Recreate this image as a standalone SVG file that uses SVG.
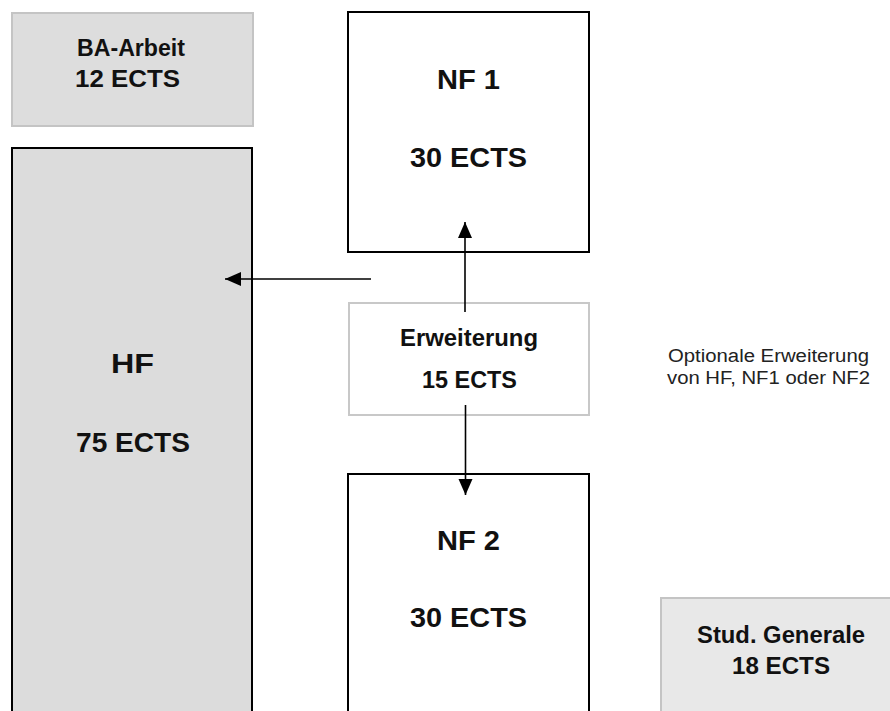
<svg xmlns="http://www.w3.org/2000/svg" width="890" height="711" viewBox="0 0 890 711">
<defs>
<marker id="ah" markerUnits="userSpaceOnUse" markerWidth="18" markerHeight="16" refX="16" refY="7" orient="auto">
<path d="M0,0 L16,7 L0,14 Z" fill="#000"/>
</marker>
<style>
.big{font-family:"Liberation Sans",Arial,sans-serif;font-weight:bold;font-size:28px;fill:#111}
.mid{font-family:"Liberation Sans",Arial,sans-serif;font-weight:bold;font-size:23px;fill:#111}
.small{font-family:"Liberation Sans",Arial,sans-serif;font-size:18px;fill:#222}
.gray{fill:#dddddd;stroke:#c4c4c4;stroke-width:2}
.black{stroke:#000;stroke-width:2}
.conn{stroke:#000;stroke-width:1.6;fill:none}
</style>
</defs>
<rect width="890" height="711" fill="#fff"/>
<g id="ba-arbeit">
<rect class="gray" x="12" y="13" width="241" height="113"/>
<text class="mid" x="77" y="56" textLength="108" lengthAdjust="spacingAndGlyphs">BA-Arbeit</text>
<text class="mid" x="75" y="87" textLength="105" lengthAdjust="spacingAndGlyphs">12 ECTS</text>
</g>
<g id="hf">
<rect class="black" x="12" y="148" width="240" height="580" fill="#dcdcdc"/>
<text class="big" x="111" y="373" textLength="43" lengthAdjust="spacingAndGlyphs">HF</text>
<text class="big" x="76" y="452" textLength="114" lengthAdjust="spacingAndGlyphs">75 ECTS</text>
</g>
<g id="nf1">
<rect class="black" x="348" y="12" width="241" height="240" fill="#fff"/>
<text class="big" x="437" y="89" textLength="63" lengthAdjust="spacingAndGlyphs">NF 1</text>
<text class="big" x="410" y="167" textLength="117" lengthAdjust="spacingAndGlyphs">30 ECTS</text>
</g>
<g id="erweiterung">
<rect x="349" y="303" width="240" height="112" fill="#fff" stroke="#c8c8c8" stroke-width="2"/>
<text class="mid" x="400" y="346" textLength="138" lengthAdjust="spacingAndGlyphs">Erweiterung</text>
<text class="mid" x="422" y="388" textLength="95" lengthAdjust="spacingAndGlyphs">15 ECTS</text>
</g>
<g id="nf2">
<rect class="black" x="348" y="474" width="241" height="260" fill="#fff"/>
<text class="big" x="437" y="550" textLength="63" lengthAdjust="spacingAndGlyphs">NF 2</text>
<text class="big" x="410" y="627" textLength="117" lengthAdjust="spacingAndGlyphs">30 ECTS</text>
</g>
<g id="stud-generale">
<rect x="661" y="598" width="240" height="120" fill="#e8e8e8" stroke="#c4c4c4" stroke-width="2"/>
<text class="mid" x="697" y="643" textLength="168" lengthAdjust="spacingAndGlyphs">Stud. Generale</text>
<text class="mid" x="732" y="674" textLength="98" lengthAdjust="spacingAndGlyphs">18 ECTS</text>
</g>
<g id="note">
<text class="small" x="668" y="362" textLength="201" lengthAdjust="spacingAndGlyphs">Optionale Erweiterung</text>
<text class="small" x="667" y="384" textLength="203" lengthAdjust="spacingAndGlyphs">von HF, NF1 oder NF2</text>
</g>
<g id="connectors">
<line class="conn" x1="371" y1="279" x2="225" y2="279" marker-end="url(#ah)"/>
<line class="conn" x1="465" y1="312" x2="465" y2="222" marker-end="url(#ah)"/>
<line class="conn" x1="465.5" y1="405" x2="465.5" y2="495" marker-end="url(#ah)"/>
</g>
</svg>
